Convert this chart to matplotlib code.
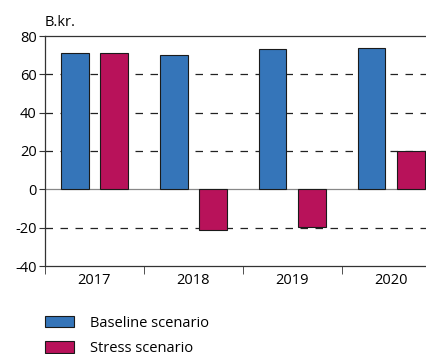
import matplotlib.pyplot as plt
import numpy as np

# data
years = ["2017", "2018", "2019", "2020"]
baseline = [71, 70, 73, 74]
stress = [71, -21, -19.5, 20]
yticks = [-40, -20, 0, 20, 40, 60, 80]

plt.rcParams['font.family'] = ['Open Sans', 'DejaVu Sans']
plt.rcParams['font.size'] = 10.5
plt.rcParams['axes.unicode_minus'] = False

fig = plt.figure(figsize=(4.27, 3.54), dpi=100)
ax = fig.add_axes([45/427, 88/354, 1 - 45/427, 230/354])

x = np.arange(len(years))
blue = '#3575b9'
red = '#b8125a'

# grid lines
for v in [20, 40, 60, -20]:
    ax.axhline(v, color='#222222', lw=0.9, ls=(0, (6, 6)), zorder=1)
ax.axhline(0, color='#888888', lw=0.9, zorder=1)

ax.bar(x - 0.2, baseline, width=0.28, color=blue, edgecolor='#1a1a1a',
       lw=0.8, zorder=2, label='Baseline scenario')
ax.bar(x + 0.2, stress, width=0.28, color=red, edgecolor='#1a1a1a',
       lw=0.8, zorder=2, label='Stress scenario')

ax.set_ylim(-40, 80)
ax.set_xlim(-0.5, 3.36)
ax.set_yticks(yticks)
ax.set_xticks(x)
ax.set_xticklabels(years)
ax.set_xticks([-0.5, 0.5, 1.5, 2.5], minor=True)
ax.tick_params(axis='x', which='major', length=0, pad=5)
ax.tick_params(axis='x', which='minor', length=6, direction='out', color='#333333')
ax.tick_params(axis='y', length=4, direction='out', color='#333333', pad=2)

for s in ['left', 'top', 'bottom']:
    ax.spines[s].set_color('#333333')
    ax.spines[s].set_linewidth(0.9)
ax.spines['right'].set_visible(False)

fig.text(45/427, 1 - 22/354, 'B.kr.', ha='left', va='center')

fig.legend(loc='lower left', bbox_to_anchor=(32/427, -15/354), frameon=False,
           handlelength=2.0, handleheight=0.85, handletextpad=1.1,
           labelspacing=0.7)

fig.savefig('out.png', dpi=100)
